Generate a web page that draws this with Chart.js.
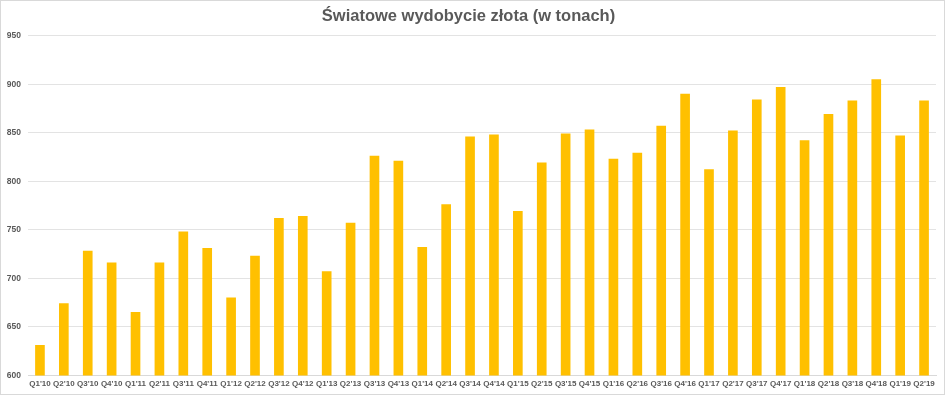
<!DOCTYPE html>
<html>
<head>
<meta charset="utf-8">
<script src="https://cdn.jsdelivr.net/npm/chart.js@4.4.1/dist/chart.umd.min.js"></script>
<style>
  html, body { margin: 0; padding: 0; background: #fff; }
  #wrap { width: 945px; height: 395px; box-sizing: border-box; border: 1px solid #d9d9d9; position: relative; }
</style>
</head>
<body>
<div id="wrap"><canvas id="goldChart"></canvas></div>
<script>
// Dane: kwartały i wydobycie złota (tony)
const quarters = [
  "Q1'10", "Q2'10", "Q3'10", "Q4'10",
  "Q1'11", "Q2'11", "Q3'11", "Q4'11",
  "Q1'12", "Q2'12", "Q3'12", "Q4'12",
  "Q1'13", "Q2'13", "Q3'13", "Q4'13",
  "Q1'14", "Q2'14", "Q3'14", "Q4'14",
  "Q1'15", "Q2'15", "Q3'15", "Q4'15",
  "Q1'16", "Q2'16", "Q3'16", "Q4'16",
  "Q1'17", "Q2'17", "Q3'17", "Q4'17",
  "Q1'18", "Q2'18", "Q3'18", "Q4'18",
  "Q1'19", "Q2'19"
];
const tonnes = [
  631, 674, 728, 716,
  665, 716, 748, 731,
  680, 723, 762, 764,
  707, 757, 826, 821,
  732, 776, 846, 848,
  769, 819, 849, 853,
  823, 829, 857, 890,
  812, 852, 884, 897,
  842, 869, 883, 905,
  847, 883
];
const yMin = 600;
const yMax = 950;
const yStep = 50;

const ctx = document.getElementById('goldChart').getContext('2d');

new Chart(ctx, {
  type: 'bar',
  data: {
    labels: quarters,
    datasets: [{
      label: 'Wydobycie złota',
      data: tonnes,
      backgroundColor: '#FFC000',
      borderWidth: 0,
      barThickness: 9
    }]
  },
  options: {
    responsive: true,
    maintainAspectRatio: false,
    animation: false,
    layout: { padding: { left: 0, right: 8, top: 6, bottom: 1 } },
    plugins: {
      legend: { display: false },
      tooltip: { enabled: false },
      title: {
        display: true,
        text: 'Światowe wydobycie złota (w tonach)',
        color: '#595959',
        font: { family: 'Liberation Sans, Arial, sans-serif', size: 16.5, weight: 'bold' },
        padding: { top: 0, bottom: 9 }
      }
    },
    scales: {
      x: {
        grid: { display: false, drawTicks: false },
        border: { color: '#d9d9d9' },
        ticks: {
          color: '#595959',
          font: { family: 'Liberation Sans, Arial, sans-serif', size: 8, weight: 'bold' },
          maxRotation: 0,
          autoSkip: false,
          padding: 4
        }
      },
      y: {
        min: yMin,
        max: yMax,
        afterFit: (scale) => { scale.width = 27; },
        grid: { color: '#e3e3e3', drawTicks: false },
        border: { display: false },
        ticks: {
          stepSize: yStep,
          color: '#595959',
          font: { family: 'Liberation Sans, Arial, sans-serif', size: 8.5, weight: 'bold' },
          padding: 7
        }
      }
    }
  }
});
</script>
</body>
</html>
